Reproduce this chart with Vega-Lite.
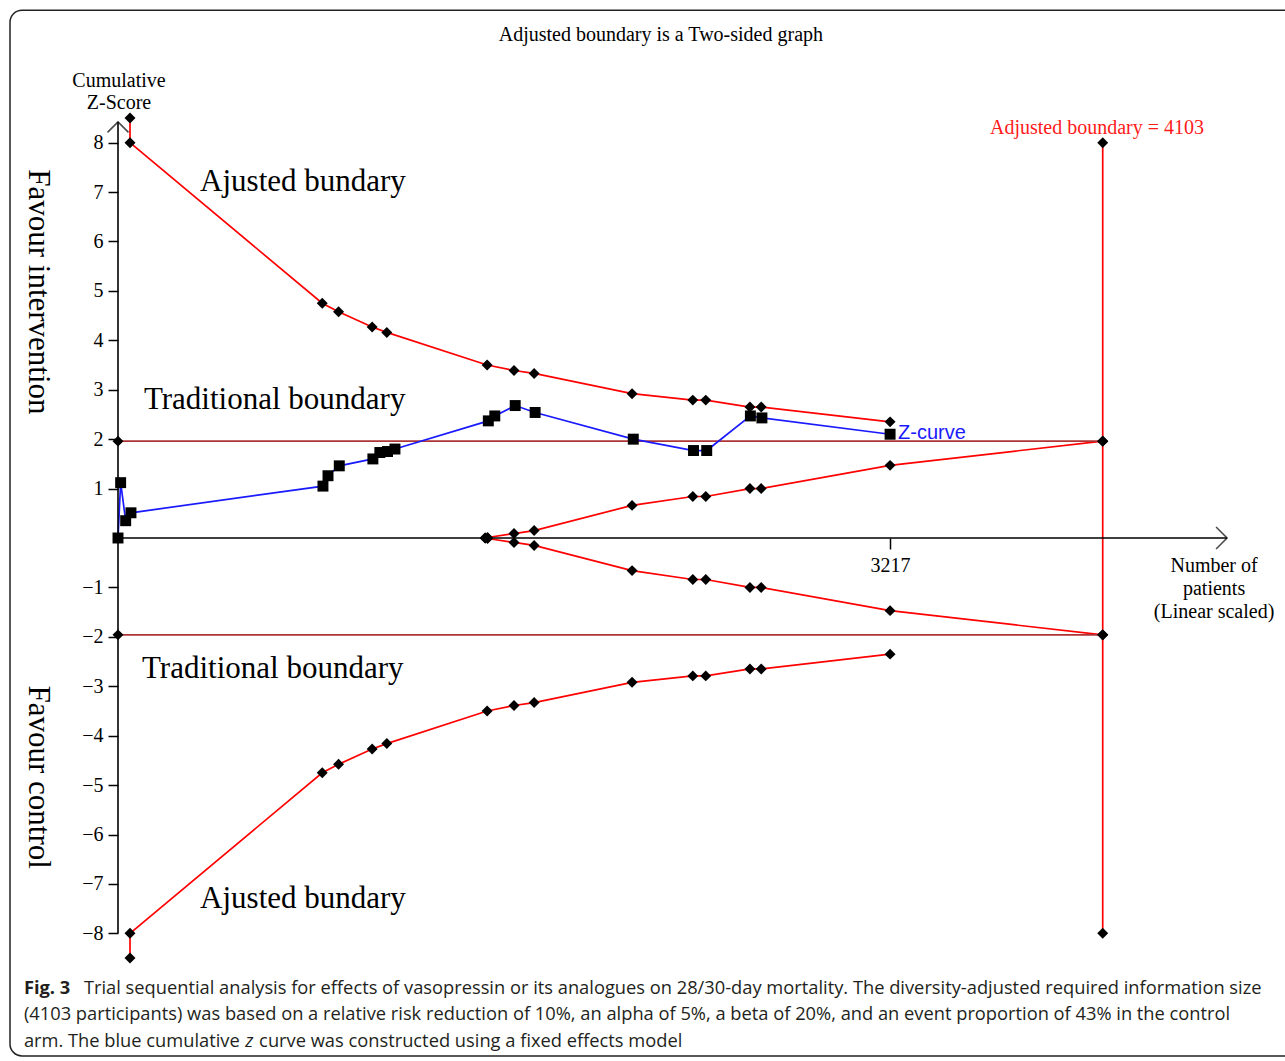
{
  "$schema": "https://vega.github.io/schema/vega-lite/v6.json",
  "width": 1104,
  "height": 850,
  "autosize": {"type": "none"},
  "padding": {"left": 118, "top": 113, "right": 63, "bottom": 98},
  "background": "white",
  "config": {
    "view": {"stroke": null},
    "font": "Liberation Serif",
    "axis": {"domain": false, "grid": false, "tickColor": "black", "tickWidth": 1.5, "labelFont": "Liberation Serif", "labelFontSize": 20, "labelColor": "black"},
    "axisX": {"tickSize": 11, "labelPadding": 6},
    "axisY": {"tickSize": 10, "labelPadding": 5}
  },
  "datasets": {
    "pts": [
      {"series": "adj_upper", "i": 0, "n": 50, "z": 8.5},
      {"series": "adj_upper", "i": 1, "n": 50, "z": 8.0},
      {"series": "adj_upper", "i": 2, "n": 851, "z": 4.75},
      {"series": "adj_upper", "i": 3, "n": 919, "z": 4.58},
      {"series": "adj_upper", "i": 4, "n": 1059, "z": 4.27},
      {"series": "adj_upper", "i": 5, "n": 1120, "z": 4.16},
      {"series": "adj_upper", "i": 6, "n": 1538, "z": 3.5},
      {"series": "adj_upper", "i": 7, "n": 1650, "z": 3.39},
      {"series": "adj_upper", "i": 8, "n": 1734, "z": 3.33},
      {"series": "adj_upper", "i": 9, "n": 2142, "z": 2.92},
      {"series": "adj_upper", "i": 10, "n": 2395, "z": 2.79},
      {"series": "adj_upper", "i": 11, "n": 2449, "z": 2.79},
      {"series": "adj_upper", "i": 12, "n": 2633, "z": 2.65},
      {"series": "adj_upper", "i": 13, "n": 2680, "z": 2.65},
      {"series": "adj_upper", "i": 14, "n": 3217, "z": 2.35},
      {"series": "adj_lower", "i": 0, "n": 50, "z": -8.5},
      {"series": "adj_lower", "i": 1, "n": 50, "z": -8.0},
      {"series": "adj_lower", "i": 2, "n": 851, "z": -4.75},
      {"series": "adj_lower", "i": 3, "n": 919, "z": -4.58},
      {"series": "adj_lower", "i": 4, "n": 1059, "z": -4.27},
      {"series": "adj_lower", "i": 5, "n": 1120, "z": -4.16},
      {"series": "adj_lower", "i": 6, "n": 1538, "z": -3.5},
      {"series": "adj_lower", "i": 7, "n": 1650, "z": -3.39},
      {"series": "adj_lower", "i": 8, "n": 1734, "z": -3.33},
      {"series": "adj_lower", "i": 9, "n": 2142, "z": -2.92},
      {"series": "adj_lower", "i": 10, "n": 2395, "z": -2.79},
      {"series": "adj_lower", "i": 11, "n": 2449, "z": -2.79},
      {"series": "adj_lower", "i": 12, "n": 2633, "z": -2.65},
      {"series": "adj_lower", "i": 13, "n": 2680, "z": -2.65},
      {"series": "adj_lower", "i": 14, "n": 3217, "z": -2.35},
      {"series": "inner_upper", "i": 0, "n": 1530, "z": 0.0},
      {"series": "inner_upper", "i": 1, "n": 1540, "z": 0.01},
      {"series": "inner_upper", "i": 2, "n": 1650, "z": 0.09},
      {"series": "inner_upper", "i": 3, "n": 1734, "z": 0.15},
      {"series": "inner_upper", "i": 4, "n": 2142, "z": 0.66},
      {"series": "inner_upper", "i": 5, "n": 2395, "z": 0.84},
      {"series": "inner_upper", "i": 6, "n": 2449, "z": 0.84},
      {"series": "inner_upper", "i": 7, "n": 2633, "z": 1.0},
      {"series": "inner_upper", "i": 8, "n": 2680, "z": 1.0},
      {"series": "inner_upper", "i": 9, "n": 3217, "z": 1.47},
      {"series": "inner_upper", "i": 10, "n": 4103, "z": 1.96},
      {"series": "inner_lower", "i": 0, "n": 1530, "z": 0.0},
      {"series": "inner_lower", "i": 1, "n": 1540, "z": -0.01},
      {"series": "inner_lower", "i": 2, "n": 1650, "z": -0.09},
      {"series": "inner_lower", "i": 3, "n": 1734, "z": -0.15},
      {"series": "inner_lower", "i": 4, "n": 2142, "z": -0.66},
      {"series": "inner_lower", "i": 5, "n": 2395, "z": -0.84},
      {"series": "inner_lower", "i": 6, "n": 2449, "z": -0.84},
      {"series": "inner_lower", "i": 7, "n": 2633, "z": -1.0},
      {"series": "inner_lower", "i": 8, "n": 2680, "z": -1.0},
      {"series": "inner_lower", "i": 9, "n": 3217, "z": -1.47},
      {"series": "inner_lower", "i": 10, "n": 4103, "z": -1.96},
      {"series": "trad_upper", "i": 0, "n": 0, "z": 1.96},
      {"series": "trad_upper", "i": 1, "n": 4103, "z": 1.96},
      {"series": "trad_lower", "i": 0, "n": 0, "z": -1.96},
      {"series": "trad_lower", "i": 1, "n": 4103, "z": -1.96},
      {"series": "ris", "i": 0, "n": 4103, "z": 8.0},
      {"series": "ris", "i": 1, "n": 4103, "z": 1.96},
      {"series": "ris", "i": 2, "n": 4103, "z": -1.96},
      {"series": "ris", "i": 3, "n": 4103, "z": -8.0},
      {"series": "zcurve", "i": 0, "n": 0, "z": 0.0},
      {"series": "zcurve", "i": 1, "n": 11, "z": 1.12},
      {"series": "zcurve", "i": 2, "n": 32, "z": 0.35},
      {"series": "zcurve", "i": 3, "n": 54, "z": 0.51},
      {"series": "zcurve", "i": 4, "n": 854, "z": 1.05},
      {"series": "zcurve", "i": 5, "n": 875, "z": 1.26},
      {"series": "zcurve", "i": 6, "n": 922, "z": 1.46},
      {"series": "zcurve", "i": 7, "n": 1062, "z": 1.6},
      {"series": "zcurve", "i": 8, "n": 1091, "z": 1.73},
      {"series": "zcurve", "i": 9, "n": 1123, "z": 1.75},
      {"series": "zcurve", "i": 10, "n": 1154, "z": 1.8},
      {"series": "zcurve", "i": 11, "n": 1543, "z": 2.37},
      {"series": "zcurve", "i": 12, "n": 1570, "z": 2.47},
      {"series": "zcurve", "i": 13, "n": 1655, "z": 2.68},
      {"series": "zcurve", "i": 14, "n": 1738, "z": 2.54},
      {"series": "zcurve", "i": 15, "n": 2147, "z": 2.0},
      {"series": "zcurve", "i": 16, "n": 2398, "z": 1.77},
      {"series": "zcurve", "i": 17, "n": 2453, "z": 1.77},
      {"series": "zcurve", "i": 18, "n": 2635, "z": 2.47},
      {"series": "zcurve", "i": 19, "n": 2683, "z": 2.43},
      {"series": "zcurve", "i": 20, "n": 3217, "z": 2.1}
    ]
  },
  "layer": [
    {
      "data": {"name": "pts"},
      "mark": {"type": "line"},
      "encoding": {
        "x": {"field": "n", "type": "quantitative", "title": null, "scale": {"domain": [0, 4600], "nice": false, "zero": false},
          "axis": {"values": [3217], "format": "d", "offset": -425, "title": null}},
        "y": {"field": "z", "type": "quantitative", "title": null, "scale": {"domain": [-8.6, 8.6], "nice": false, "zero": false},
          "axis": {"values": [-8, -7, -6, -5, -4, -3, -2, -1, 1, 2, 3, 4, 5, 6, 7, 8], "title": null}},
        "color": {"field": "series", "type": "nominal", "legend": null,
          "scale": {"domain": ["adj_upper", "adj_lower", "inner_upper", "inner_lower", "trad_upper", "trad_lower", "ris", "zcurve"],
            "range": ["#ff0000", "#ff0000", "#ff0000", "#ff0000", "#ad3535", "#ad3535", "#ff0000", "#1a1aff"]}},
        "strokeWidth": {"field": "series", "type": "nominal", "legend": null,
          "scale": {"domain": ["adj_upper", "adj_lower", "inner_upper", "inner_lower", "trad_upper", "trad_lower", "ris", "zcurve"],
            "range": [1.7, 1.7, 1.7, 1.7, 2.4, 2.4, 1.7, 1.9]}},
        "order": {"field": "i", "type": "quantitative"}
      }
    },
    {
      "data": {"values": [{}]},
      "mark": {"type": "rect", "fill": "transparent", "stroke": "#222222", "strokeWidth": 1.5, "cornerRadius": 12},
      "encoding": {
        "x": {"datum": -450, "type": "quantitative", "title": null},
        "x2": {"datum": 4925},
        "y": {"datum": 10.68, "type": "quantitative", "title": null},
        "y2": {"datum": -10.48}
      }
    },
    {
      "data": {"values": [{}]},
      "mark": {"type": "rule", "color": "black", "strokeWidth": 1.6},
      "encoding": {
        "x": {"datum": 0, "type": "quantitative", "title": null},
        "y": {"datum": -8, "type": "quantitative", "title": null},
        "y2": {"datum": 8.42}
      }
    },
    {
      "data": {"values": [{}]},
      "mark": {"type": "rule", "color": "black", "strokeWidth": 1.6},
      "encoding": {
        "x": {"datum": 0, "type": "quantitative", "title": null},
        "x2": {"datum": 4621},
        "y": {"datum": 0, "type": "quantitative", "title": null}
      }
    },
    {
      "data": {"values": [{}]},
      "mark": {"type": "point", "shape": "M-1,1L0,0L1,1", "size": 440, "filled": false, "stroke": "black", "strokeWidth": 1.6},
      "encoding": {
        "x": {"datum": 0, "type": "quantitative", "title": null},
        "y": {"datum": 8.42, "type": "quantitative", "title": null}
      }
    },
    {
      "data": {"values": [{}]},
      "mark": {"type": "point", "shape": "M-1,-1L0,0L-1,1", "size": 480, "filled": false, "stroke": "black", "strokeWidth": 1.6},
      "encoding": {
        "x": {"datum": 4621, "type": "quantitative", "title": null},
        "y": {"datum": 0, "type": "quantitative", "title": null}
      }
    },
    {
      "data": {"name": "pts"},
      "mark": {"type": "point", "filled": true, "color": "black", "opacity": 1},
      "encoding": {
        "x": {"field": "n", "type": "quantitative", "title": null},
        "y": {"field": "z", "type": "quantitative", "title": null},
        "shape": {"field": "series", "type": "nominal", "legend": null,
          "scale": {"domain": ["adj_upper", "adj_lower", "inner_upper", "inner_lower", "trad_upper", "trad_lower", "ris", "zcurve"],
            "range": ["diamond", "diamond", "diamond", "diamond", "diamond", "diamond", "diamond", "square"]}},
        "size": {"field": "series", "type": "nominal", "legend": null,
          "scale": {"domain": ["adj_upper", "adj_lower", "inner_upper", "inner_lower", "trad_upper", "trad_lower", "ris", "zcurve"],
            "range": [120, 120, 120, 120, 120, 120, 120, 85]}}
      }
    },
    {
      "data": {"values": [{}]},
      "mark": {"type": "text", "text": "Adjusted boundary is a Two-sided graph", "font": "Liberation Serif", "fontSize": 20, "align": "center", "baseline": "middle", "color": "black"},
      "encoding": {"x": {"datum": 2262, "type": "quantitative", "title": null}, "y": {"datum": 10.18, "type": "quantitative", "title": null}}
    },
    {
      "data": {"values": [{}]},
      "mark": {"type": "text", "text": ["Cumulative", "Z-Score"], "lineHeight": 22, "font": "Liberation Serif", "fontSize": 20, "align": "center", "baseline": "middle", "color": "black"},
      "encoding": {"x": {"datum": 4, "type": "quantitative", "title": null}, "y": {"datum": 9.25, "type": "quantitative", "title": null}}
    },
    {
      "data": {"values": [{}]},
      "mark": {"type": "text", "text": ["Number of", "patients", "(Linear scaled)"], "lineHeight": 23, "font": "Liberation Serif", "fontSize": 20, "align": "center", "baseline": "middle", "color": "black"},
      "encoding": {"x": {"datum": 4567, "type": "quantitative", "title": null}, "y": {"datum": -0.567, "type": "quantitative", "title": null}}
    },
    {
      "data": {"values": [{}]},
      "mark": {"type": "text", "text": "Adjusted boundary = 4103", "font": "Liberation Serif", "fontSize": 20, "align": "center", "baseline": "middle", "color": "#ff1a1a"},
      "encoding": {"x": {"datum": 4079, "type": "quantitative", "title": null}, "y": {"datum": 8.3, "type": "quantitative", "title": null}}
    },
    {
      "data": {"values": [{}]},
      "mark": {"type": "text", "text": "Ajusted bundary", "font": "Liberation Serif", "fontSize": 31, "align": "left", "baseline": "middle", "color": "black"},
      "encoding": {"x": {"datum": 342, "type": "quantitative", "title": null}, "y": {"datum": 7.2, "type": "quantitative", "title": null}}
    },
    {
      "data": {"values": [{}]},
      "mark": {"type": "text", "text": "Traditional boundary", "font": "Liberation Serif", "fontSize": 31, "align": "left", "baseline": "middle", "color": "black"},
      "encoding": {"x": {"datum": 108, "type": "quantitative", "title": null}, "y": {"datum": 2.79, "type": "quantitative", "title": null}}
    },
    {
      "data": {"values": [{}]},
      "mark": {"type": "text", "text": "Traditional boundary", "font": "Liberation Serif", "fontSize": 31, "align": "left", "baseline": "middle", "color": "black"},
      "encoding": {"x": {"datum": 100, "type": "quantitative", "title": null}, "y": {"datum": -2.65, "type": "quantitative", "title": null}}
    },
    {
      "data": {"values": [{}]},
      "mark": {"type": "text", "text": "Ajusted bundary", "font": "Liberation Serif", "fontSize": 31, "align": "left", "baseline": "middle", "color": "black"},
      "encoding": {"x": {"datum": 342, "type": "quantitative", "title": null}, "y": {"datum": -7.3, "type": "quantitative", "title": null}}
    },
    {
      "data": {"values": [{}]},
      "mark": {"type": "text", "text": "Favour intervention", "font": "Liberation Serif", "fontSize": 31, "align": "center", "baseline": "middle", "angle": 90, "color": "black"},
      "encoding": {"x": {"datum": -333, "type": "quantitative", "title": null}, "y": {"datum": 4.98, "type": "quantitative", "title": null}}
    },
    {
      "data": {"values": [{}]},
      "mark": {"type": "text", "text": "Favour control", "font": "Liberation Serif", "fontSize": 31, "align": "center", "baseline": "middle", "angle": 90, "color": "black"},
      "encoding": {"x": {"datum": -333, "type": "quantitative", "title": null}, "y": {"datum": -4.84, "type": "quantitative", "title": null}}
    },
    {
      "data": {"values": [{}]},
      "mark": {"type": "text", "text": "Z-curve", "font": "Liberation Sans", "fontSize": 20, "align": "left", "baseline": "middle", "color": "#1a1aff"},
      "encoding": {"x": {"datum": 3250, "type": "quantitative", "title": null}, "y": {"datum": 2.12, "type": "quantitative", "title": null}}
    },
    {
      "data": {"values": [{}]},
      "mark": {"type": "text", "text": "Fig. 3", "font": "Open Sans", "fontWeight": "bold", "fontSize": 18.3, "align": "left", "baseline": "middle", "color": "#231f20"},
      "encoding": {"x": {"datum": -392, "type": "quantitative", "title": null}, "y": {"datum": -9.126, "type": "quantitative", "title": null}}
    },
    {
      "data": {"values": [{}]},
      "mark": {"type": "text", "text": "Trial sequential analysis for effects of vasopressin or its analogues on 28/30-day mortality. The diversity-adjusted required information size", "font": "Open Sans", "fontSize": 18.3, "align": "left", "baseline": "middle", "color": "#231f20"},
      "encoding": {"x": {"datum": -142, "type": "quantitative", "title": null}, "y": {"datum": -9.126, "type": "quantitative", "title": null}}
    },
    {
      "data": {"values": [{}]},
      "mark": {"type": "text", "text": "(4103 participants) was based on a relative risk reduction of 10%, an alpha of 5%, a beta of 20%, and an event proportion of 43% in the control", "font": "Open Sans", "fontSize": 18.3, "align": "left", "baseline": "middle", "color": "#231f20"},
      "encoding": {"x": {"datum": -392, "type": "quantitative", "title": null}, "y": {"datum": -9.652, "type": "quantitative", "title": null}}
    },
    {
      "data": {"values": [{}]},
      "mark": {"type": "text", "text": "arm. The blue cumulative", "font": "Open Sans", "fontSize": 18.3, "align": "left", "baseline": "middle", "color": "#231f20"},
      "encoding": {"x": {"datum": -392, "type": "quantitative", "title": null}, "y": {"datum": -10.198, "type": "quantitative", "title": null}}
    },
    {
      "data": {"values": [{}]},
      "mark": {"type": "text", "text": "z", "font": "Open Sans", "fontStyle": "italic", "fontSize": 18.3, "align": "left", "baseline": "middle", "color": "#231f20"},
      "encoding": {"x": {"datum": 530, "type": "quantitative", "title": null}, "y": {"datum": -10.198, "type": "quantitative", "title": null}}
    },
    {
      "data": {"values": [{}]},
      "mark": {"type": "text", "text": "curve was constructed using a fixed effects model", "font": "Open Sans", "fontSize": 18.3, "align": "left", "baseline": "middle", "color": "#231f20"},
      "encoding": {"x": {"datum": 588, "type": "quantitative", "title": null}, "y": {"datum": -10.198, "type": "quantitative", "title": null}}
    }
  ]
}
